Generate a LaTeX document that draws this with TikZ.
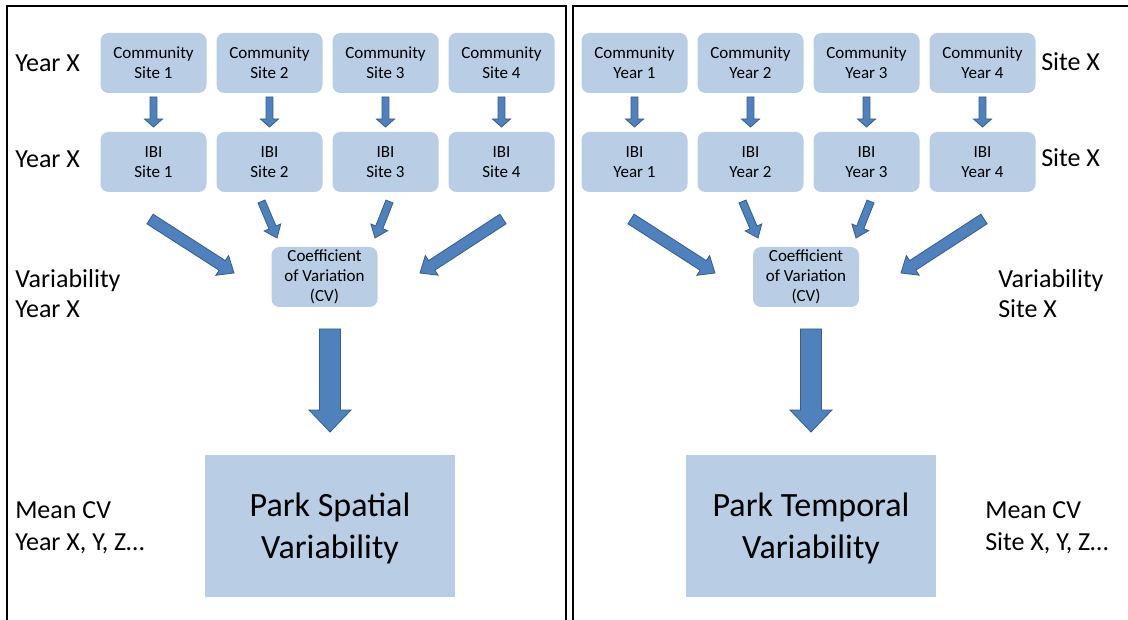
\documentclass[tikz,border=0pt]{standalone}
\usepackage{fontspec}
\setmainfont{Carlito}
\usetikzlibrary{calc}
\definecolor{boxfill}{HTML}{B9CDE5}
\definecolor{arrfill}{HTML}{4F81BD}
\definecolor{arrline}{HTML}{385D8A}
\newcommand{\blockarr}[5]{%
  \coordinate (bh) at ($(#2)!#5!(#1)$);
  \filldraw[arrowsty] ($(#1)!#3!90:(#2)$) -- ($(bh)!#3!90:(#2)$) -- ($(bh)!#4!90:(#2)$) -- (#2) -- ($(bh)!#4!-90:(#2)$) -- ($(bh)!#3!-90:(#2)$) -- ($(#1)!#3!-90:(#2)$) -- cycle;}
\tikzset{
 cbox/.style={fill=boxfill, rounded corners=6pt, minimum width=79.5pt, minimum height=45pt, align=center, inner sep=0pt, font=\fontsize{12.75}{15}\selectfont},
 bigbox/.style={fill=boxfill, minimum width=187.5pt, minimum height=106.5pt, align=center, inner sep=0pt, text depth=0pt, font=\fontsize{25.5}{31.5}\selectfont},
 lbl/.style={anchor=base west, inner sep=0pt, font=\fontsize{19.5}{23}\selectfont},
 arrowsty/.style={fill=arrfill, draw=arrline, line width=0.6pt, line join=miter},
 frame/.style={draw=black, line width=1.7pt}
}
\begin{document}
\begin{tikzpicture}[x=0.75pt,y=-0.75pt]
\clip (0,0) rectangle (1128,620);
\fill[white] (0,0) rectangle (1128,620);
% frames
\draw[frame] (7,6) rectangle (566,640);
\draw[frame] (573,6) rectangle (1140,640);
% left panel
\foreach \i/\cx in {1/153.5,2/269.5,3/385.5,4/501.5} {
  \node[cbox] (lc\i) at (\cx,63) {Community\\Site \i};
  \node[cbox] (li\i) at (\cx,162) {IBI\\Site \i};
  \coordinate (lat\i) at (\cx,97);
  \coordinate (lah\i) at (\cx,127);
  \blockarr{lat\i}{lah\i}{2.6pt}{6.75pt}{6pt}
}
\node[cbox] (lcv) at (324.5,277) {Coefficient\\of Variation\\(CV)};
\node[bigbox] (lpark) at (330,526) {Park Spatial\\Variability};
\coordinate (ld1t) at (150,219); \coordinate (ld1h) at (234,273);
\coordinate (ld2t) at (261.5,201.5); \coordinate (ld2h) at (277,238);
\coordinate (ld3t) at (389.5,201.5); \coordinate (ld3h) at (375,238);
\coordinate (ld4t) at (503,219); \coordinate (ld4h) at (420,273);
\blockarr{ld1t}{ld1h}{4.3pt}{8.8pt}{10.5pt}
\blockarr{ld2t}{ld2h}{2.85pt}{6.75pt}{8.6pt}
\blockarr{ld3t}{ld3h}{2.85pt}{6.75pt}{8.6pt}
\blockarr{ld4t}{ld4h}{4.3pt}{8.8pt}{10.5pt}
\coordinate (lbt) at (330,329); \coordinate (lbh) at (330,432);
\blockarr{lbt}{lbh}{7.9pt}{15.75pt}{16.5pt}
\node[lbl] (ly1) at (15,72) {Year X};
\node[lbl] (ly2) at (15,168) {Year X};
\node[lbl] (lv1) at (15,287) {Variability};
\node[lbl] (lv2) at (15,318) {Year X};
\node[lbl] (lm1) at (15,518) {Mean CV};
\node[lbl] (lm2) at (15,550) {Year X, Y, Z…};
% right panel
\foreach \i/\cx in {1/634.5,2/750.5,3/866.5,4/982.5} {
  \node[cbox] (rc\i) at (\cx,63) {Community\\Year \i};
  \node[cbox] (ri\i) at (\cx,162) {IBI\\Year \i};
  \coordinate (rat\i) at (\cx,97);
  \coordinate (rah\i) at (\cx,127);
  \blockarr{rat\i}{rah\i}{2.6pt}{6.75pt}{6pt}
}
\node[cbox] (rcv) at (806,277) {Coefficient\\of Variation\\(CV)};
\node[bigbox] (rpark) at (811,526) {Park Temporal\\Variability};
\coordinate (rd1t) at (631,219); \coordinate (rd1h) at (715,273);
\coordinate (rd2t) at (742.5,201.5); \coordinate (rd2h) at (758,238);
\coordinate (rd3t) at (870.5,201.5); \coordinate (rd3h) at (856,238);
\coordinate (rd4t) at (984,219); \coordinate (rd4h) at (901,273);
\blockarr{rd1t}{rd1h}{4.3pt}{8.8pt}{10.5pt}
\blockarr{rd2t}{rd2h}{2.85pt}{6.75pt}{8.6pt}
\blockarr{rd3t}{rd3h}{2.85pt}{6.75pt}{8.6pt}
\blockarr{rd4t}{rd4h}{4.3pt}{8.8pt}{10.5pt}
\coordinate (rbt) at (811,329); \coordinate (rbh) at (811,432);
\blockarr{rbt}{rbh}{7.9pt}{15.75pt}{16.5pt}
\node[lbl] (ry1) at (1041,71) {Site X};
\node[lbl] (ry2) at (1041,167) {Site X};
\node[lbl] (rv1) at (998,287) {Variability};
\node[lbl] (rv2) at (998,318) {Site X};
\node[lbl] (rm1) at (985,518) {Mean CV};
\node[lbl] (rm2) at (985,550) {Site X, Y, Z…};
\end{tikzpicture}
\end{document}
